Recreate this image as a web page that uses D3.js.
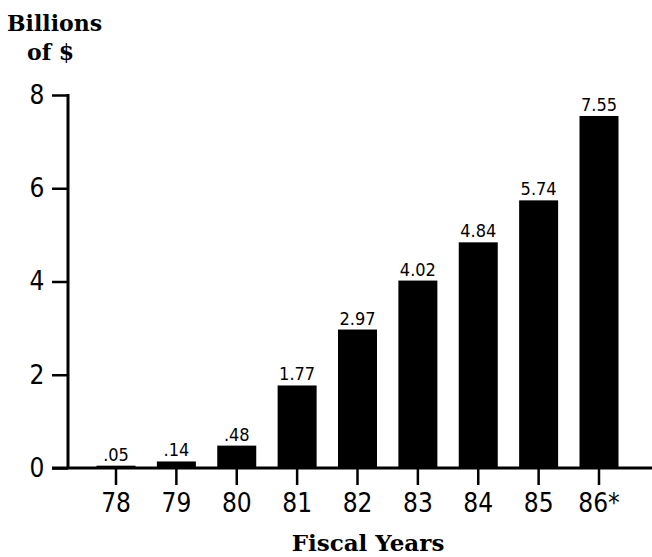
<!DOCTYPE html>
<html>
<head>
<meta charset="utf-8">
<script src="https://cdn.jsdelivr.net/npm/d3@7"></script>
<style>
  body { margin: 0; background: #fff; }
  svg { display: block; }
</style>
</head>
<body>
<svg></svg>
<script>
const w = 652;
const h = 557;

const years = ['78', '79', '80', '81', '82', '83', '84', '85', '86*'];
const values = [0.05, 0.14, 0.48, 1.77, 2.97, 4.02, 4.84, 5.74, 7.55];
const valueLabels = ['.05', '.14', '.48', '1.77', '2.97', '4.02', '4.84', '5.74', '7.55'];
const yTicks = [0, 2, 4, 6, 8];

const svg = d3.select('svg').attr('width', w).attr('height', h);

const x = d3.scaleBand().domain(years).range([96.5, 618.5]).paddingInner(0.354).paddingOuter(0);
const y = d3.scaleLinear().domain([0, 8]).range([468, 95]);

const numFont = "'DejaVu Sans Condensed', sans-serif";
const titleFont = "'DejaVu Serif', serif";

// bars
svg.selectAll('.bar')
  .data(values)
  .enter()
  .append('rect')
  .attr('class', 'bar')
  .attr('x', (d, i) => x(years[i]))
  .attr('width', x.bandwidth())
  .attr('y', d => y(d))
  .attr('height', d => y(0) - y(d))
  .attr('fill', '#000');

// value labels
svg.selectAll('.val')
  .data(values)
  .enter()
  .append('text')
  .attr('class', 'val')
  .attr('x', (d, i) => x(years[i]) + x.bandwidth() / 2)
  .attr('y', d => y(d) - 5)
  .attr('text-anchor', 'middle')
  .style('font-family', numFont)
  .style('font-size', '18px')
  .text((d, i) => valueLabels[i]);

// y axis
const yAxis = d3.axisLeft(y).tickValues(yTicks).tickSize(16).tickPadding(8).tickFormat(d3.format('d'));
const gy = svg.append('g').attr('transform', 'translate(68,0)').call(yAxis);
gy.select('.domain').remove();
gy.selectAll('line').attr('stroke', '#000').attr('stroke-width', 2.5);
gy.selectAll('text')
  .attr('x', -31)
  .attr('text-anchor', 'middle')
  .style('font-family', numFont)
  .style('font-size', '26px')
  .attr('fill', '#000');

svg.append('line')
  .attr('x1', 68).attr('x2', 68)
  .attr('y1', y(8) - 1).attr('y2', y(0))
  .attr('stroke', '#000').attr('stroke-width', 3);

// x axis
const xAxis = d3.axisBottom(x).tickSize(17).tickPadding(9);
const gx = svg.append('g').attr('transform', `translate(0,${y(0)})`).call(xAxis);
gx.select('.domain').remove();
gx.selectAll('line').attr('stroke', '#000').attr('stroke-width', 2.5);
gx.selectAll('text')
  .style('font-family', numFont)
  .style('font-size', '26px')
  .attr('fill', '#000');

svg.append('line')
  .attr('x1', 52).attr('x2', 652)
  .attr('y1', y(0)).attr('y2', y(0))
  .attr('stroke', '#000').attr('stroke-width', 3);

// titles
svg.append('text')
  .attr('x', 7).attr('y', 31)
  .style('font-family', titleFont)
  .style('font-weight', 'bold')
  .style('font-size', '22px')
  .text('Billions');

svg.append('text')
  .attr('x', 27).attr('y', 60)
  .style('font-family', titleFont)
  .style('font-weight', 'bold')
  .style('font-size', '22px')
  .text('of $');

svg.append('text')
  .attr('x', 368).attr('y', 551)
  .attr('text-anchor', 'middle')
  .style('font-family', titleFont)
  .style('font-weight', 'bold')
  .style('font-size', '23px')
  .text('Fiscal Years');
</script>
</body>
</html>
